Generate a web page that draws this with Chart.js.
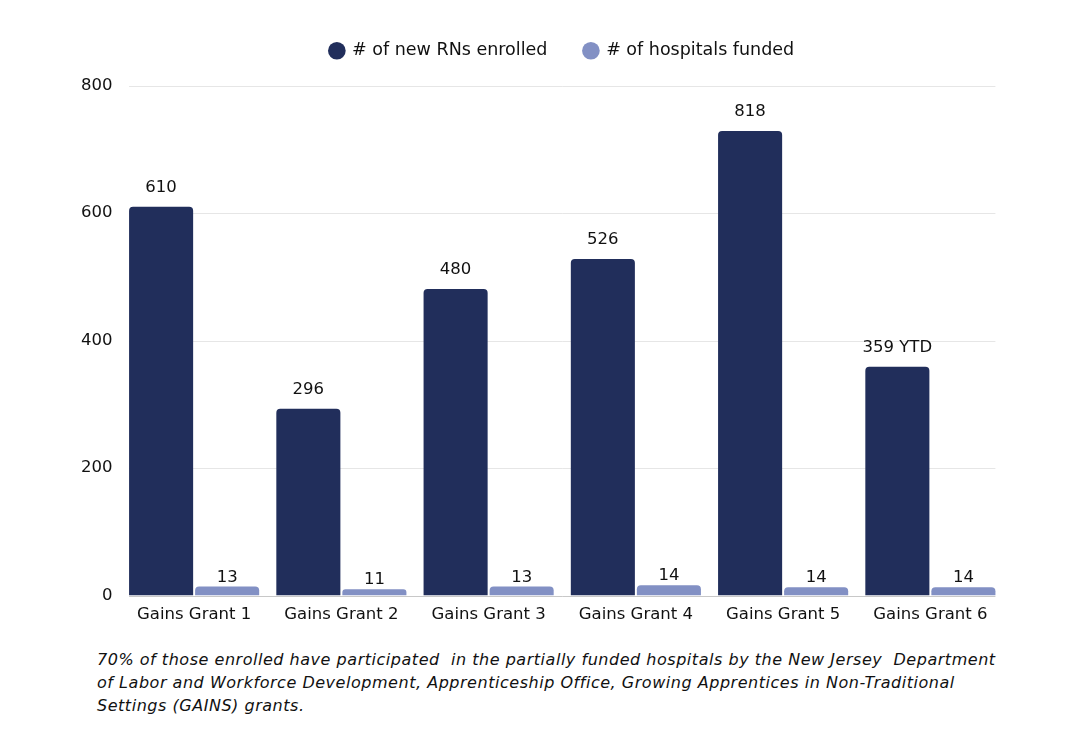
<!DOCTYPE html>
<html>
<head>
<meta charset="utf-8">
<script src="https://cdn.jsdelivr.net/npm/chart.js@4.4.1/dist/chart.umd.min.js"></script>
<style>
    html, body { margin: 0; padding: 0; background: #fff; }
    #wrap { position: relative; width: 1080px; height: 750px; }
    #box { position: absolute; left: 0; top: 0; width: 1080px; height: 640px; }
    #note {
        position: absolute; left: 97px; top: 648px;
        font-family: 'DejaVu Sans', sans-serif; font-style: italic;
        font-size: 16px; letter-spacing: 0.53px; line-height: 23px; color: #111;
        white-space: pre;
    }
</style>
</head>
<body>
<div id="wrap">
    <div id="box"><canvas id="grants-chart"></canvas></div>
    <div id="note"></div>
</div>
<script>
const categories = ['Gains Grant 1', 'Gains Grant 2', 'Gains Grant 3', 'Gains Grant 4', 'Gains Grant 5', 'Gains Grant 6'];
// bar heights as drawn in the picture
const rnsEnrolled = [610, 293, 481, 528, 729, 359];
const hospitalsFunded = [14, 10, 14, 16, 13, 13];
// printed labels above the bars
const rnsLabels = ['610', '296', '480', '526', '818', '359 YTD'];
const hospitalsLabels = ['13', '11', '13', '14', '14', '14'];
const yTicks = [0, 200, 400, 600, 800];
const noteLines = [
    '70% of those enrolled have participated  in the partially funded hospitals by the New Jersey  Department',
    'of Labor and Workforce Development, Apprenticeship Office, Growing Apprentices in Non-Traditional',
    'Settings (GAINS) grants.'
];

document.getElementById('note').textContent = noteLines.join('\n');

const FONT = "'DejaVu Sans', sans-serif";
const DARK = '#212e5b';
const LIGHT = '#8290c4';

// grid lines only across the bars, like the original
const gridPlugin = {
    id: 'shortGrid',
    beforeDatasetsDraw(chart) {
        const c = chart.ctx;
        const first = chart.getDatasetMeta(0).data[0];
        const last = chart.getDatasetMeta(1).data[categories.length - 1];
        const x0 = first.x - first.width / 2;
        const x1 = last.x + last.width / 2;
        const y = chart.scales.y;
        c.save();
        yTicks.forEach(v => {
            const py = Math.round(y.getPixelForValue(v)) + 0.5;
            c.strokeStyle = v === 0 ? '#c8c8c8' : '#e6e6e6';
            c.lineWidth = 1;
            c.beginPath();
            c.moveTo(x0, py);
            c.lineTo(x1, py);
            c.stroke();
        });
        c.restore();
    }
};

const labelPlugin = {
    id: 'barLabels',
    afterDatasetsDraw(chart) {
        const c = chart.ctx;
        const sets = [[rnsLabels, 15], [hospitalsLabels, 5]];
        c.save();
        c.font = '16.5px ' + FONT;
        c.fillStyle = '#111';
        c.textAlign = 'center';
        c.textBaseline = 'alphabetic';
        sets.forEach(([labels, gap], i) => {
            chart.getDatasetMeta(i).data.forEach((bar, j) => {
                c.fillText(labels[j], bar.x, bar.y - gap);
            });
        });
        c.restore();
    }
};

const ctx = document.getElementById('grants-chart').getContext('2d');
const grantsChart = new Chart(ctx, {
    type: 'bar',
    data: {
        labels: categories,
        datasets: [{
            label: '# of new RNs enrolled',
            data: rnsEnrolled,
            backgroundColor: DARK,
            borderRadius: 4,
            categoryPercentage: 0.897,
            barPercentage: 0.97
        }, {
            label: '# of hospitals funded',
            data: hospitalsFunded,
            backgroundColor: LIGHT,
            borderRadius: 4,
            categoryPercentage: 0.897,
            barPercentage: 0.97
        }]
    },
    options: {
        responsive: true,
        maintainAspectRatio: false,
        animation: false,
        layout: { padding: { left: 0, right: 76, top: 5, bottom: 0 } },
        plugins: {
            tooltip: { enabled: false },
            legend: {
                fullSize: false,
                labels: {
                    usePointStyle: true,
                    pointStyle: 'circle',
                    boxWidth: 13,
                    boxHeight: 12.5,
                    padding: 37,
                    color: '#111',
                    font: { family: FONT, size: 17.5 }
                }
            },
            subtitle: {
                display: true,
                text: '',
                weight: 500,
                font: { size: 1 },
                padding: { top: 0, bottom: 15 }
            }
        },
        scales: {
            x: {
                grid: { display: false },
                border: { display: false },
                ticks: { color: '#111', padding: 1, font: { family: FONT, size: 16.5 } },
                afterFit(scale) { scale.height = 44.5; }
            },
            y: {
                min: 0,
                max: 800,
                grid: { display: false, drawTicks: false },
                border: { display: false },
                ticks: {
                    stepSize: 200,
                    padding: 8,
                    color: '#111',
                    font: { family: FONT, size: 16.5 }
                },
                afterFit(scale) { scale.width = 120.5; }
            }
        }
    },
    plugins: [gridPlugin, labelPlugin]
});
</script>
</body>
</html>
